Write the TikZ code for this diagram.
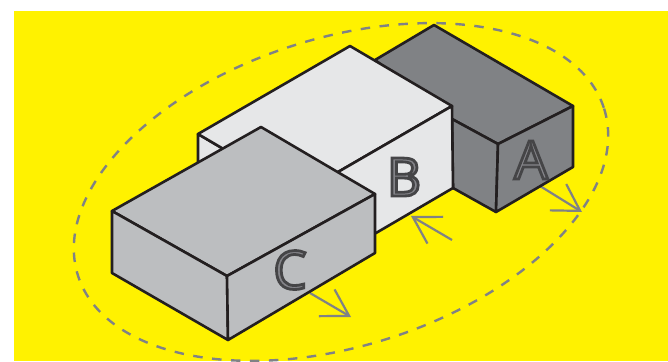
\documentclass[tikz,border=0pt]{standalone}
\usepackage{fontspec}
\setmainfont{Open Sans}
\usetikzlibrary{arrows.meta}
\definecolor{bgyellow}{HTML}{FFF200}
\definecolor{boxa}{HTML}{808285}
\definecolor{boxb}{HTML}{E6E7E8}
\definecolor{boxc}{HTML}{BCBEC0}
\definecolor{edgeink}{HTML}{231F20}
\newcommand{\outlined}[1]{\special{pdf:code q 2 Tr 2.8 w 0.27 0.27 0.28 RG 0.52 0.52 0.54 rg}#1\special{pdf:code Q}}
\tikzset{
  blockface/.style={draw=edgeink,line width=2.6pt,line join=round},
  pusharrow/.style={draw=boxa,line width=2.2pt,-{Straight Barb[length=26pt,width=31pt,line width=2.2pt]}},
  letterlabel/.style={inner sep=0pt,font=\fontsize{53}{53}\selectfont}
}
\begin{document}
\begin{tikzpicture}[x=1pt,y=-1pt]
\useasboundingbox (0,0) rectangle (668,361);
\clip (0,0) rectangle (668,361);
\fill[bgyellow] (14,11) rectangle (668,361);

% loop round the three blocks
\draw[boxa,line width=2.4pt,dash pattern=on 9.5pt off 9.5pt,rotate around={17.6:(341,192)}] (341,192) ellipse (276 and 154);

% arrows
\draw[pusharrow] (540,186) -- (582,212);
\draw[pusharrow] (452,240) -- (411,216);
\draw[pusharrow] (310,293) -- (351,317);

% block A
\draw[blockface,fill=boxa] (375,60) -- (434,25) -- (573,106) -- (498,144) -- (452,119) -- cycle;
\draw[blockface,fill=boxa] (452,119) -- (498,144) -- (496,212) -- (453,188) -- cycle;
\draw[blockface,fill=boxa] (498,144) -- (573,106) -- (573,167) -- (496,212) -- cycle;

% block B
\draw[blockface,fill=boxb] (198,134) -- (300,194) -- (300,260) -- (198,200) -- cycle;
\draw[blockface,fill=boxb] (198,134) -- (350,46) -- (452,106) -- (300,194) -- cycle;
\draw[blockface,fill=boxb] (300,194) -- (452,106) -- (453,188) -- (376,233) -- (300,260) -- cycle;

% block C
\draw[blockface,fill=boxc] (112,211) -- (261,127) -- (375,194) -- (227,276) -- cycle;
\draw[blockface,fill=boxc] (112,211) -- (227,276) -- (228,340) -- (112,273) -- cycle;
\draw[blockface,fill=boxc] (227,276) -- (375,194) -- (375,253) -- (228,340) -- cycle;

\node[letterlabel] (labela) at (531,160) {\outlined{A}};
\node[letterlabel] (labelb) at (404,177) {\outlined{B}};
\node[letterlabel] (labelc) at (290,270) {\outlined{C}};
\end{tikzpicture}
\end{document}
